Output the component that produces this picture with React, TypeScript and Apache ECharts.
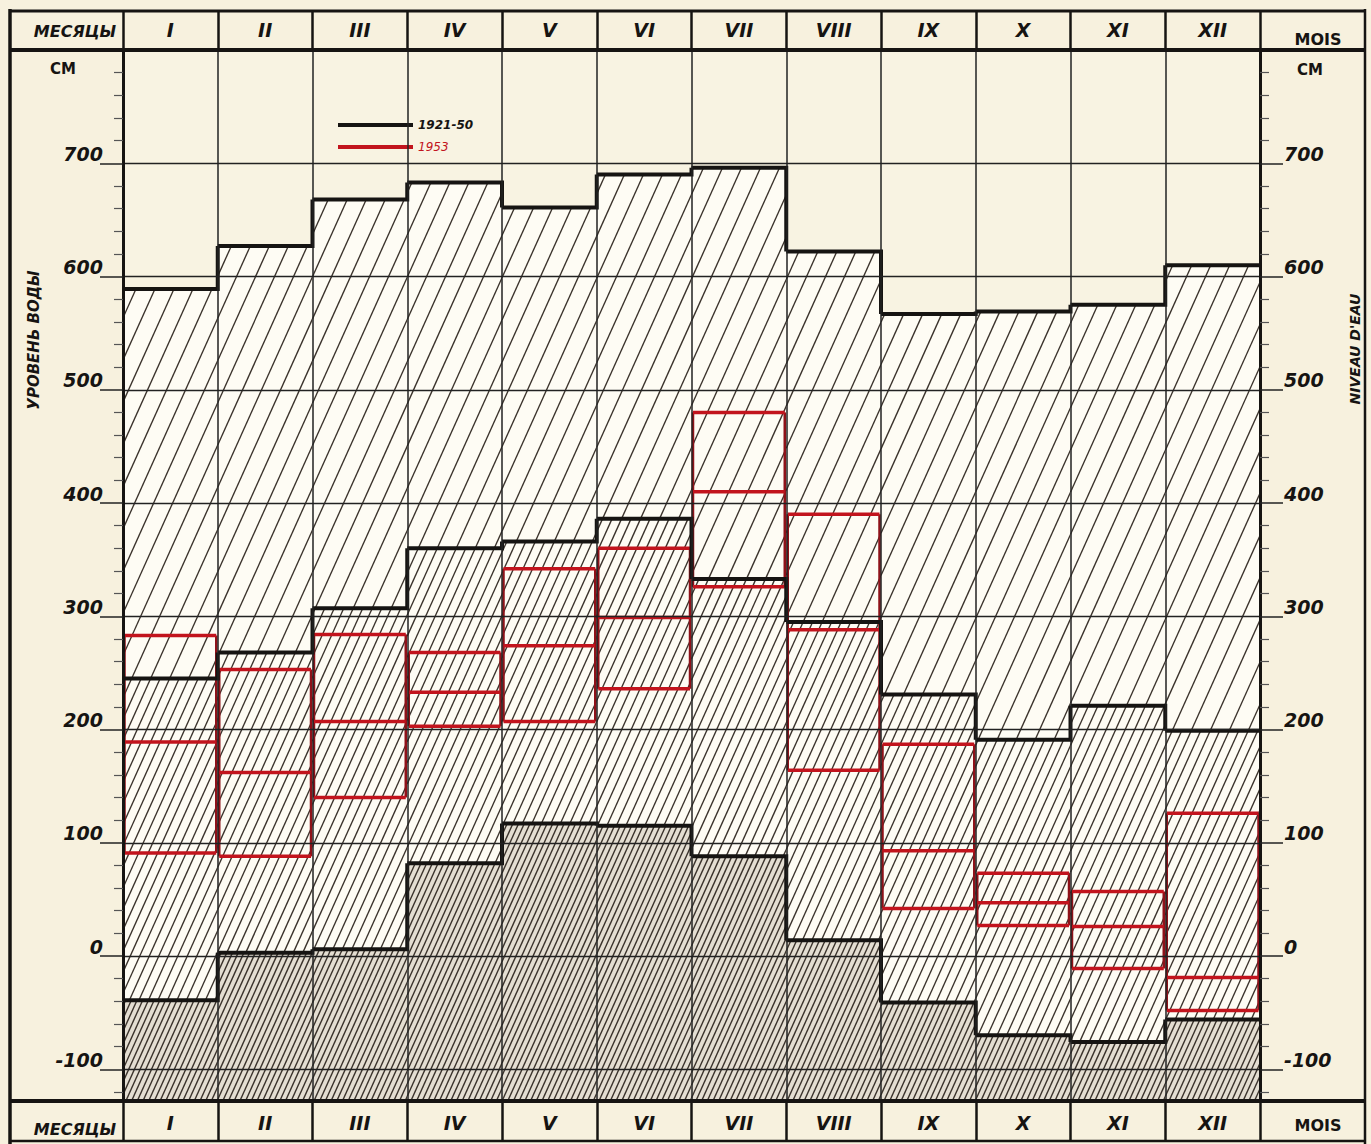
import React, { useEffect, useRef } from 'react';
import * as echarts from 'echarts';

// ---------- DATA ----------
const months = ['I', 'II', 'III', 'IV', 'V', 'VI', 'VII', 'VIII', 'IX', 'X', 'XI', 'XII'];
// 1921-50 (black): maximum, mean, minimum water level, cm
const max1921_50 = [589, 627, 668, 683, 661, 690, 696, 622, 567, 569, 575, 610];
const mean1921_50 = [245, 268, 307, 360, 366, 386, 333, 295, 231, 191, 221, 199];
const min1921_50 = [-39, 3, 6, 82, 117, 115, 88, 14, -41, -70, -76, -56];
// 1953 (red): three levels per month
const high1953 = [283, 253, 284, 268, 342, 360, 480, 390, 187, 73, 57, 126];
const mid1953 = [189, 162, 207, 233, 274, 299, 410, 288, 93, 47, 26, -19];
const low1953 = [91, 88, 140, 203, 207, 236, 326, 164, 42, 27, -11, -48];
const yLabelValues = [-100, 0, 100, 200, 300, 400, 500, 600, 700];
const AXIS_MIN = -128;
const AXIS_MAX = 800;

// ---------- STYLE ----------
const FONT = 'DejaVu Sans';
const INK = '#161412';
const RED = '#c2141d';
const PAGE_BG = '#f7f1de';
const HATCH_BG = '#fefcf4';
const DENSE_BG = '#e4ded2';
const K = 0.45;

function hatch(x0: number, x1: number, ya: number, yb: number, s: number, style: any) {
  const out: any[] = [];
  if (yb - ya < 0.5) return out;
  const cStart = Math.ceil((x0 + K * ya) / s) * s;
  const cEnd = x1 + K * yb;
  for (let c = cStart; c <= cEnd; c += s) {
    const lo = Math.max(ya, (c - x1) / K);
    const hi = Math.min(yb, (c - x0) / K);
    if (hi - lo > 0.2) {
      out.push({
        type: 'line',
        silent: true,
        shape: { x1: c - K * lo, y1: lo, x2: c - K * hi, y2: hi },
        style,
      });
    }
  }
  return out;
}

const labelStyle = {
  fontFamily: FONT,
  fontStyle: 'italic' as const,
  fontWeight: 'bold' as const,
  color: INK,
};

function buildOption() {
  const idx = months.map((_, i) => [i, max1921_50[i], mean1921_50[i], min1921_50[i]]);
  const redData = months.map((_, i) => [i, high1953[i], mid1953[i], low1953[i]]);

  const sparseStyle = { stroke: '#3a322b', lineWidth: 1.35 };
  const denseStyle = { stroke: '#3a322b', lineWidth: 1.4 };

  const hatchSeries = {
    type: 'custom',
    name: 'hatch',
    z: 1,
    clip: true,
    silent: true,
    data: idx,
    encode: { x: 0, y: [1, 2, 3] },
    renderItem: (params: any, api: any) => {
      const i = params.dataIndex;
      const bw = api.size([1, 0])[0];
      const cx = api.coord([i, 0])[0];
      const x0 = cx - bw / 2;
      const x1 = cx + bw / 2;
      const yMax = api.coord([i, max1921_50[i]])[1];
      const yMean = api.coord([i, mean1921_50[i]])[1];
      const yMin = api.coord([i, min1921_50[i]])[1];
      const yBot = api.coord([i, AXIS_MIN])[1];
      const children: any[] = [
        { type: 'rect', shape: { x: x0, y: yMax, width: bw, height: yMin - yMax }, style: { fill: HATCH_BG } },
        { type: 'rect', shape: { x: x0, y: yMin, width: bw, height: yBot - yMin }, style: { fill: DENSE_BG } },
        ...hatch(x0, x1, yMax, yMean, 19, sparseStyle),
        ...hatch(x0, x1, yMean, yMin, 9.5, sparseStyle),
        ...hatch(x0, x1, yMin, yBot, 5.7, denseStyle),
      ];
      return { type: 'group', children };
    },
  };

  const blackSeries = {
    type: 'custom',
    name: '1921-50',
    z: 4,
    clip: true,
    data: idx,
    encode: { x: 0, y: [1, 2, 3] },
    itemStyle: { color: INK },
    renderItem: (params: any, api: any) => {
      const i = params.dataIndex;
      const bw = api.size([1, 0])[0];
      const cx = api.coord([i, 0])[0];
      const x0 = cx - bw / 2;
      const x1 = cx + bw / 2;
      const children: any[] = [];
      [max1921_50, mean1921_50, min1921_50].forEach((arr) => {
        const y = api.coord([i, arr[i]])[1];
        const pts: number[][] = [[x0, y], [x1, y]];
        if (i < arr.length - 1) {
          pts.push([x1, api.coord([i + 1, arr[i + 1]])[1]]);
        }
        children.push({
          type: 'polyline',
          shape: { points: pts },
          style: { stroke: INK, lineWidth: 4, fill: null, lineJoin: 'miter' },
        });
      });
      return { type: 'group', children };
    },
  };

  const redSeries = {
    type: 'custom',
    name: '1953',
    z: 3,
    clip: true,
    data: redData,
    encode: { x: 0, y: [1, 2, 3] },
    itemStyle: { color: RED },
    renderItem: (params: any, api: any) => {
      const i = params.dataIndex;
      const bw = api.size([1, 0])[0];
      const cx = api.coord([i, 0])[0];
      const x0 = cx - bw / 2 + 1.5;
      const x1 = cx + bw / 2 - 1.5;
      const yH = api.coord([i, high1953[i]])[1];
      const yM = api.coord([i, mid1953[i]])[1];
      const yL = api.coord([i, low1953[i]])[1];
      const st = { stroke: RED, lineWidth: 3.5 };
      const vst = { stroke: '#8e1219', lineWidth: 2.5 };
      return {
        type: 'group',
        children: [
          { type: 'line', shape: { x1: x0, y1: yH, x2: x0, y2: yL }, style: vst },
          { type: 'line', shape: { x1: x1, y1: yH, x2: x1, y2: yL }, style: vst },
          { type: 'line', shape: { x1: x0, y1: yH, x2: x1, y2: yH }, style: st },
          { type: 'line', shape: { x1: x0, y1: yM, x2: x1, y2: yM }, style: st },
          { type: 'line', shape: { x1: x0, y1: yL, x2: x1, y2: yL }, style: st },
        ],
      };
    },
  };

  const yLabelFormatter = (v: number) =>
    yLabelValues.indexOf(Math.round(v)) >= 0 && Math.abs(v - Math.round(v)) < 1e-6 ? String(v) : '';

  const yAxisCommon = {
    type: 'value',
    min: AXIS_MIN,
    max: AXIS_MAX,
    splitNumber: 8,
    z: 5,
    axisLine: { show: true, lineStyle: { color: INK, width: 3 } },
    axisTick: { show: true, length: 23, lineStyle: { color: '#222', width: 1.5 } },
    minorTick: { show: true, splitNumber: 5, length: 9, lineStyle: { color: '#555', width: 1.2 } },
    minorSplitLine: { show: false },
  };

  const hLine = (x1: number, y1: number, x2: number, y2: number, w: number) => ({
    type: 'line',
    silent: true,
    z: 10,
    shape: { x1, y1, x2, y2 },
    style: { stroke: INK, lineWidth: w },
  });
  const txt = (x: number, y: number, text: string, size: number, extra: any = {}) => ({
    type: 'text',
    silent: true,
    z: 10,
    x,
    y,
    style: {
      text,
      fontSize: size,
      fontFamily: FONT,
      fontStyle: 'italic',
      fontWeight: 'bold',
      fill: INK,
      align: 'center',
      verticalAlign: 'middle',
      ...extra,
    },
  });

  return {
    animation: false,
    backgroundColor: PAGE_BG,
    grid: {
      left: 123,
      right: 111,
      top: 50,
      bottom: 43,
      show: true,
      backgroundColor: '#f8f3e2',
      borderWidth: 0,
    },
    legend: {
      selectedMode: false,
      orient: 'vertical',
      left: 333,
      top: 114,
      itemWidth: 75,
      itemHeight: 4,
      itemGap: 10,
      textStyle: { ...labelStyle, fontSize: 12 },
      data: [
        { name: '1921-50', icon: 'rect', itemStyle: { color: INK } },
        { name: '1953', icon: 'rect', itemStyle: { color: RED }, textStyle: { color: RED, fontWeight: 'normal' } },
      ],
    },
    xAxis: [
      {
        type: 'category',
        data: months,
        position: 'top',
        boundaryGap: true,
        z: 5,
        axisLine: { show: true, onZero: false, lineStyle: { color: INK, width: 4 } },
        axisTick: { show: true, length: 39, interval: 0, lineStyle: { color: INK, width: 2.5 } },
        axisLabel: { ...labelStyle, interval: 0, fontSize: 19, margin: 11 },
        splitLine: { show: true, interval: 0, lineStyle: { color: '#222', width: 1.5 } },
      },
      {
        type: 'category',
        data: months,
        position: 'bottom',
        boundaryGap: true,
        z: 5,
        axisLine: { show: true, onZero: false, lineStyle: { color: INK, width: 4 } },
        axisTick: { show: true, length: 40, interval: 0, lineStyle: { color: INK, width: 2.5 } },
        axisLabel: { ...labelStyle, interval: 0, fontSize: 19, margin: 12 },
        splitLine: { show: false },
      },
    ],
    yAxis: [
      {
        ...yAxisCommon,
        position: 'left',
        axisLabel: { ...labelStyle, fontSize: 19, margin: 20, verticalAlign: 'bottom', formatter: yLabelFormatter },
        splitLine: { show: true, lineStyle: { color: '#222', width: 1.3 } },
      },
      {
        ...yAxisCommon,
        position: 'right',
        axisLabel: { ...labelStyle, fontSize: 19, margin: 24, verticalAlign: 'bottom', formatter: yLabelFormatter },
        splitLine: { show: false },
      },
    ],
    graphic: [
      hLine(9, 11, 1366, 11, 3),
      hLine(9, 50, 1366, 50, 4),
      hLine(9, 1101, 1366, 1101, 4),
      hLine(9, 1141, 1366, 1141, 2.5),
      hLine(10, 9, 10, 1144, 3.5),
      hLine(1365, 9, 1365, 1144, 2.5),
      txt(75, 31, 'МЕСЯЦЫ', 16),
      txt(75, 1129, 'МЕСЯЦЫ', 16),
      txt(1318, 39, 'MOIS', 16, { fontStyle: 'normal' }),
      txt(1318, 1125, 'MOIS', 16, { fontStyle: 'normal' }),
      txt(63, 69, 'CM', 15, { fontStyle: 'normal' }),
      txt(1310, 70, 'CM', 15, { fontStyle: 'normal' }),
      { ...txt(34, 340, 'УРОВЕНЬ ВОДЫ', 15), rotation: Math.PI / 2 },
      { ...txt(1355, 349, "NIVEAU D'EAU", 14), rotation: Math.PI / 2 },
    ],
    series: [hatchSeries, redSeries, blackSeries],
  };
}

export default function App() {
  const ref = useRef<HTMLDivElement>(null);
  useEffect(() => {
    if (!ref.current) return;
    const chart = echarts.init(ref.current, null, { renderer: 'svg' });
    chart.setOption(buildOption() as any);
    return () => {
      chart.dispose();
    };
  }, []);
  return (
    <div
      ref={ref}
      style={{ position: 'absolute', left: 0, top: 0, width: 1371, height: 1144, background: PAGE_BG }}
    />
  );
}
